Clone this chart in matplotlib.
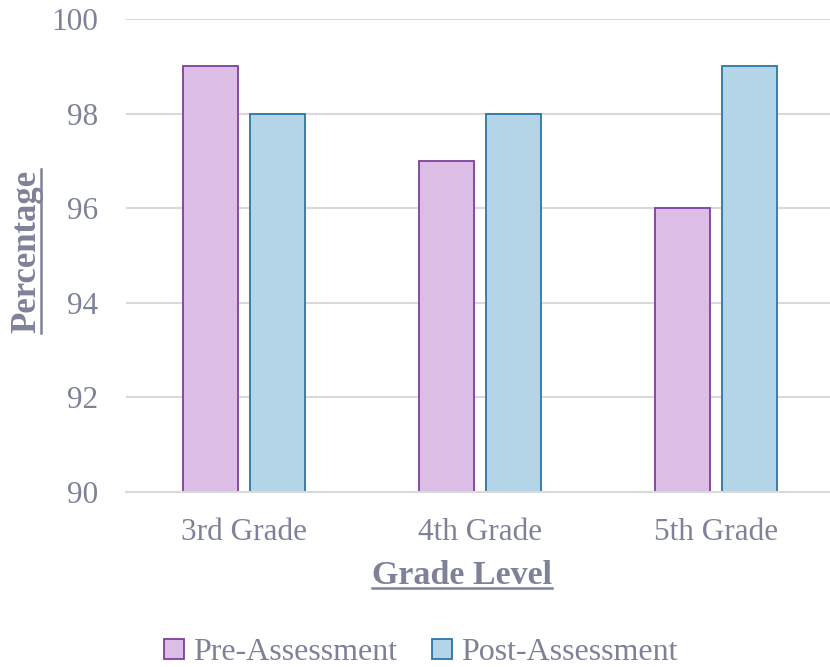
import matplotlib
matplotlib.use("Agg")
import matplotlib.pyplot as plt
import numpy as np
from matplotlib.lines import Line2D
from matplotlib.patches import Patch

categories = ["3rd Grade", "4th Grade", "5th Grade"]
pre_values = [99, 97, 96]
post_values = [98, 98, 99]
series_names = ["Pre-Assessment", "Post-Assessment"]
y_ticks = [90, 92, 94, 96, 98, 100]

TEXT = "#7E8299"
GRID = "#D9D9D9"
PRE_FILL, PRE_EDGE = "#DCBDE5", "#7E3F9C"
POST_FILL, POST_EDGE = "#B4D4E8", "#2E75A6"

plt.rcParams['font.family'] = ['Liberation Serif', 'DejaVu Serif']

W, H = 830, 667
fig = plt.figure(figsize=(W/100, H/100), dpi=100)
ax = fig.add_axes([126/W, 1-492/H, 708/W, (492-19)/H])

x = np.arange(len(categories))
bw = 0.229
off = 0.142
ax.bar(x-off, pre_values, bw, color=PRE_FILL, edgecolor=PRE_EDGE, linewidth=1.3, zorder=3)
ax.bar(x+off, post_values, bw, color=POST_FILL, edgecolor=POST_EDGE, linewidth=1.3, zorder=3)

ax.set_ylim(90, 100)
ax.set_xlim(-0.5, 2.5)
ax.set_yticks(y_ticks)
ax.set_xticks(x)
ax.set_xticklabels(categories)
ax.tick_params(axis='both', length=0, labelsize=22.5, colors=TEXT)
ax.tick_params(axis='y', pad=20)
ax.tick_params(axis='x', pad=19)
ax.grid(axis='y', color=GRID, linewidth=1.5, zorder=0)
for s in ['top', 'right', 'left']:
    ax.spines[s].set_visible(False)
ax.spines['bottom'].set_color(GRID)
ax.spines['bottom'].set_linewidth(1.5)
ax.spines['bottom'].set_zorder(4)

# Axis titles with underline
t_x = fig.text(462/W, 1-576/H, "Grade Level", ha='center', va='center',
               fontsize=24.5, fontweight='bold', color=TEXT)
t_y = fig.text(27/W, 1-251/H, "Percentage", ha='center', va='center',
               rotation=90, fontsize=25, fontweight='bold', color=TEXT)

fig.canvas.draw()
r = fig.canvas.get_renderer()
bb = t_x.get_window_extent(r)
uy = (bb.y0 + 4) / H
fig.add_artist(Line2D([bb.x0/W, bb.x1/W], [uy, uy], color=TEXT, linewidth=1.8))
bb = t_y.get_window_extent(r)
ux = (bb.x1 - 3) / W
fig.add_artist(Line2D([ux, ux], [bb.y0/H, bb.y1/H], color=TEXT, linewidth=1.8))

handles = [Patch(facecolor=PRE_FILL, edgecolor=PRE_EDGE, linewidth=1.3),
           Patch(facecolor=POST_FILL, edgecolor=POST_EDGE, linewidth=1.3)]
leg = fig.legend(handles, series_names, loc='center', bbox_to_anchor=(421/W, 1-653/H),
                 ncol=2, frameon=False, fontsize=23, handlelength=0.6, handleheight=0.6,
                 handletextpad=0.3, columnspacing=1.1, labelcolor=TEXT)

fig.savefig("out.png", dpi=100)
